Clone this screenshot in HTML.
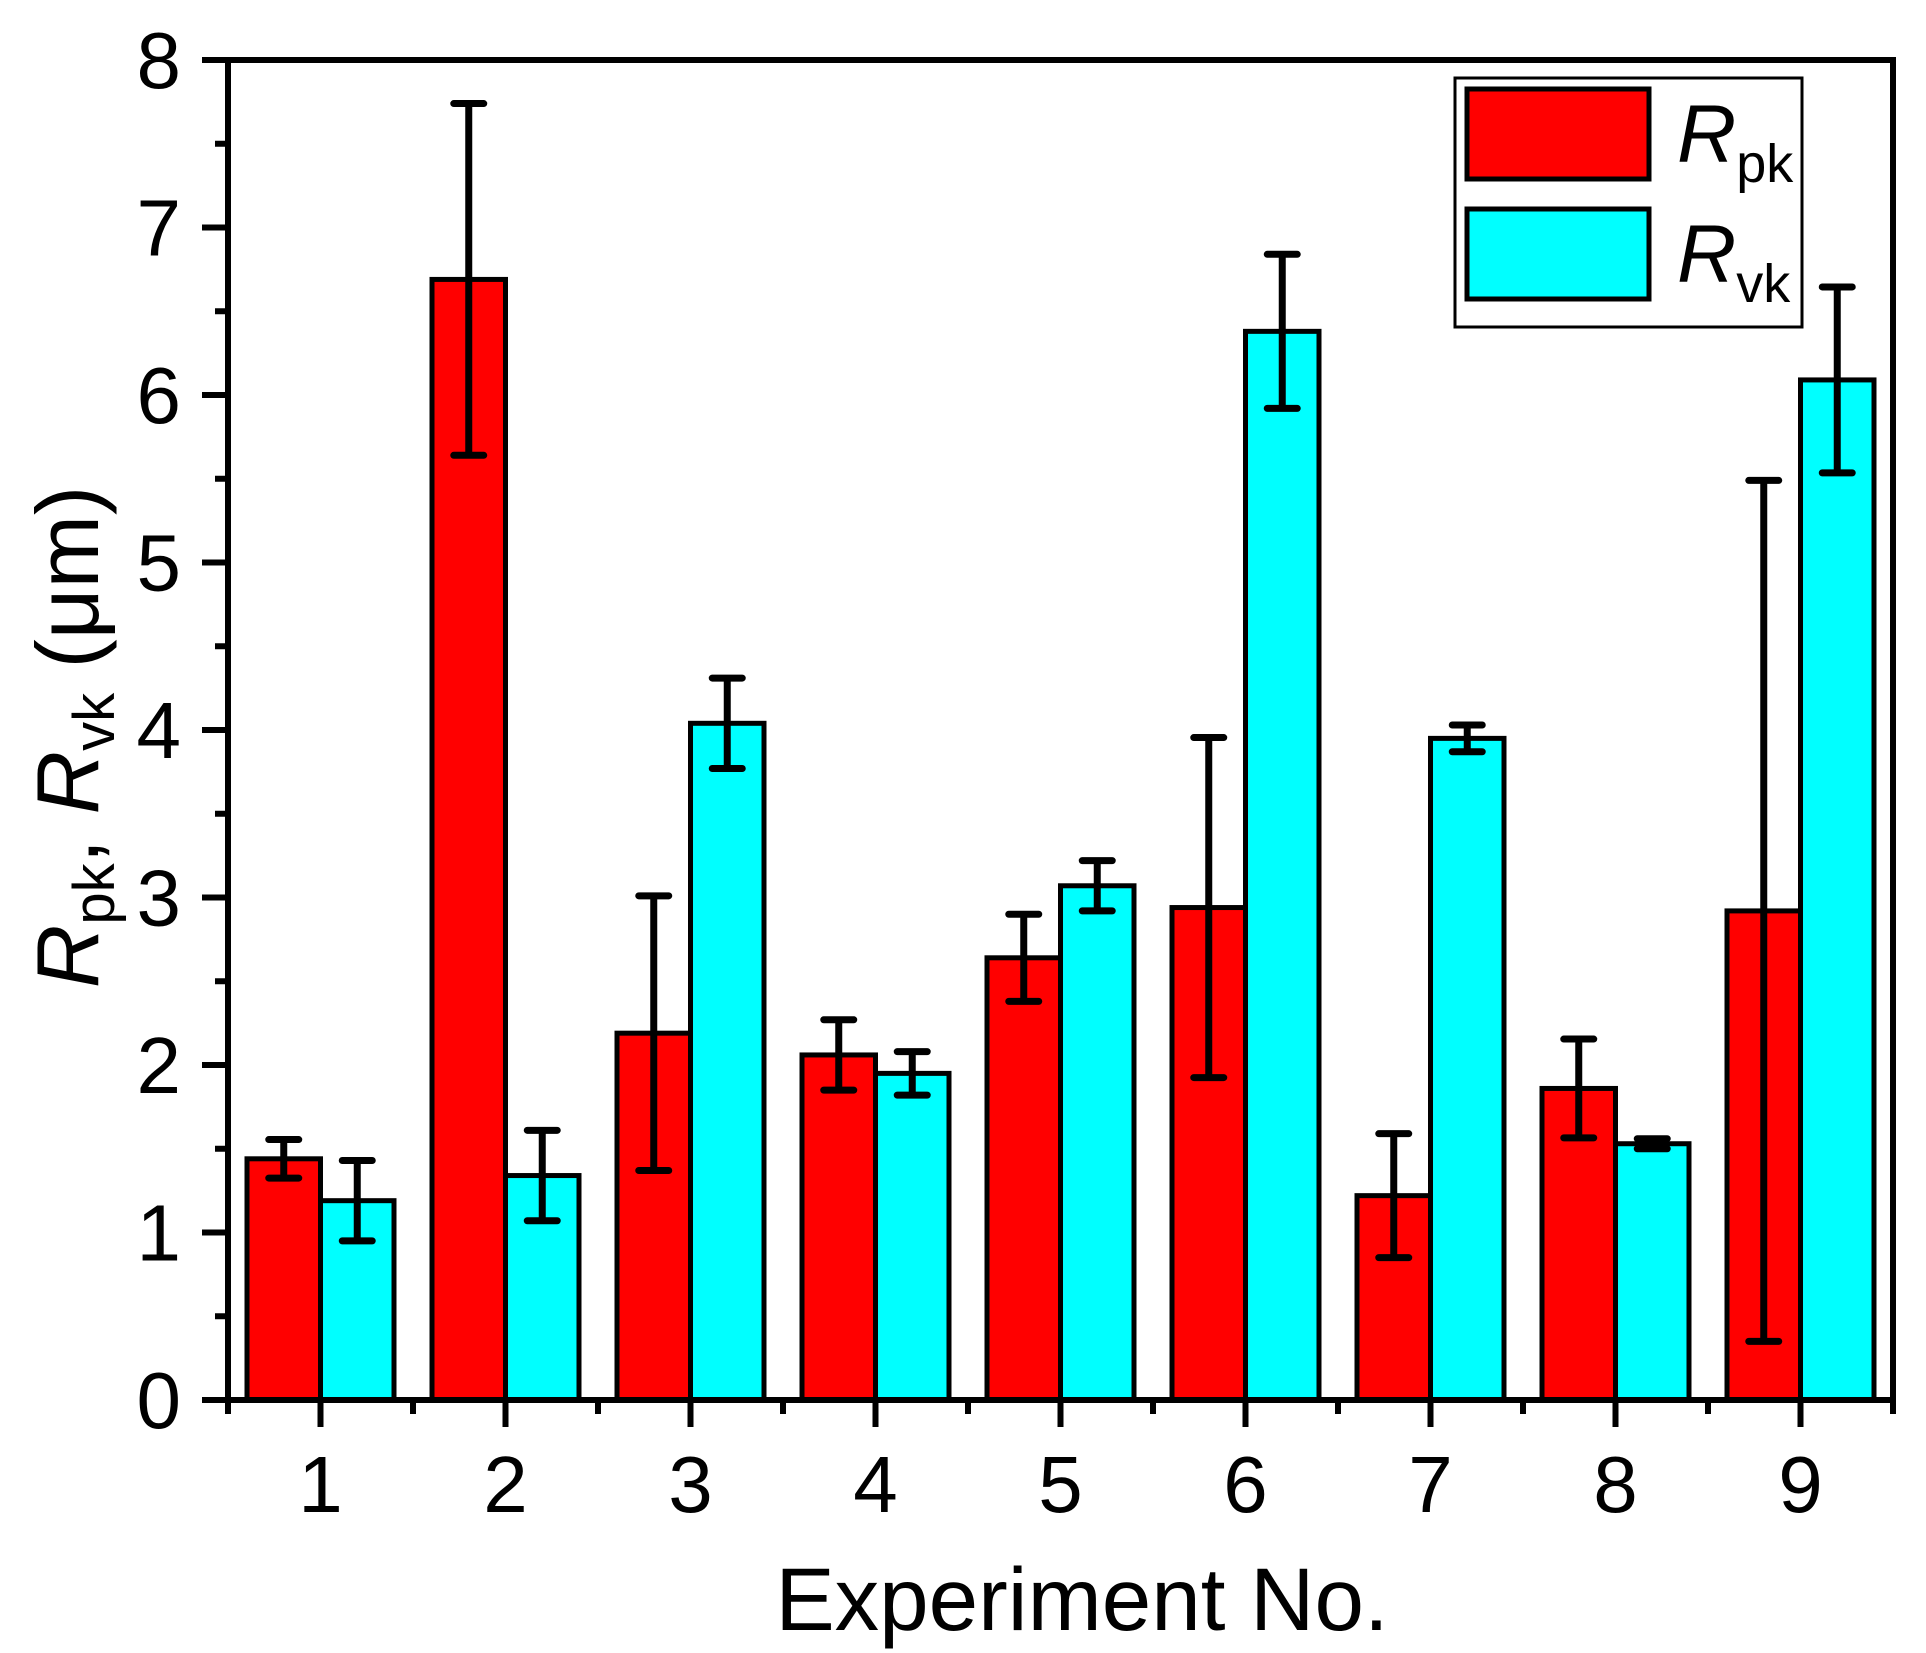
<!DOCTYPE html>
<html><head><meta charset="utf-8"><style>
html,body{margin:0;padding:0;background:#fff}
svg{display:block;font-family:"Liberation Sans",Arial,sans-serif}
</style></head><body>
<svg id="chart" width="1926" height="1653" viewBox="0 0 1926 1653" xmlns="http://www.w3.org/2000/svg">
<g id="plot"></g>
<g>
<rect x="1455" y="78" width="347" height="249" fill="#fff" stroke="#000" stroke-width="3"/>
<rect x="1467" y="89" width="182" height="90" fill="#ff0000" stroke="#000" stroke-width="5"/>
<text x="1677" y="162" font-size="82" font-style="italic">R<tspan font-size="54" font-style="normal" dy="20">pk</tspan></text>
<rect x="1467" y="209" width="182" height="90" fill="#00ffff" stroke="#000" stroke-width="5"/>
<text x="1677" y="282" font-size="82" font-style="italic">R<tspan font-size="54" font-style="normal" dy="20">vk</tspan></text>
</g>
<text x="1082" y="1630" font-size="89" text-anchor="middle">Experiment No.</text>
<text transform="translate(98,737) rotate(-90)" font-size="88" text-anchor="middle"><tspan font-style="italic">R</tspan><tspan font-size="58" dy="16">pk</tspan><tspan dy="-16">, </tspan><tspan font-style="italic">R</tspan><tspan font-size="58" dy="16">vk</tspan><tspan dy="-16"> (μm)</tspan></text>
</svg>
<script>
const categories = [1,2,3,4,5,6,7,8,9];
const rpk = [1.44,6.69,2.19,2.06,2.64,2.94,1.22,1.86,2.92];
const rpkErr = [0.115,1.05,0.82,0.21,0.26,1.015,0.37,0.295,2.57];
const rvk = [1.19,1.34,4.04,1.95,3.07,6.38,3.95,1.53,6.09];
const rvkErr = [0.24,0.27,0.27,0.13,0.15,0.46,0.08,0.03,0.555];
const yTicks = [0,1,2,3,4,5,6,7,8];

const NS="http://www.w3.org/2000/svg";
const X0=228,X1=1893,Y0=1400,Y1=60;
const xs=c=>X0+(c-0.5)*(X1-X0)/9;
const ys=v=>Y0-v*(Y0-Y1)/8;
const g=document.getElementById('plot');
function mk(t,a){const e=document.createElementNS(NS,t);for(const k in a)e.setAttribute(k,a[k]);g.appendChild(e);return e;}
const bw=73.5;
function bars(vals,off,color,nm){
  vals.forEach((v,i)=>{
    const cx=xs(categories[i])+off;
    const r=mk('rect',{x:cx-bw/2,y:ys(v),width:bw,height:Y0-ys(v),fill:color,stroke:'#000','stroke-width':5});
    
    
  });
}
function errbars(vals,errs,off,nm){
  vals.forEach((v,i)=>{
    const cx=xs(categories[i])+off;
    const lo=ys(v-errs[i]),hi=ys(v+errs[i]);
    const p=mk('path',{d:`M${cx},${lo}V${hi}M${cx-15},${hi}H${cx+15}M${cx-15},${lo}H${cx+15}`,stroke:'#000','stroke-width':7,'stroke-linecap':'round',fill:'none'});
    
    
  });
}
bars(rpk,-bw/2,'#ff0000','rpk');
bars(rvk,bw/2,'#00ffff','rvk');
errbars(rpk,rpkErr,-bw/2,'rpk');
errbars(rvk,rvkErr,bw/2,'rvk');
const fr=mk('path',{d:`M${X0},${Y1}V${Y0}H${X1}V${Y1}H${X0}`,stroke:'#000','stroke-width':6,fill:'none'});


yTicks.forEach(t=>{
  const y=ys(t);
  const l=mk('line',{x1:X0-26,x2:X0,y1:y,y2:y,stroke:'#000','stroke-width':6});
  
  
  const tx=mk('text',{x:181,y:y+28,'font-size':80,'text-anchor':'end'});
  tx.textContent=t;
  
  
  if(t<8){const m=mk('line',{x1:X0-13,x2:X0,y1:ys(t+0.5),y2:ys(t+0.5),stroke:'#000','stroke-width':6});
  
  }
});
categories.forEach(c=>{
  const x=xs(c);
  const l=mk('line',{x1:x,x2:x,y1:Y0,y2:Y0+27,stroke:'#000','stroke-width':6});
  
  
  const tx=mk('text',{x:x,y:1512,'font-size':80,'text-anchor':'middle'});
  tx.textContent=c;
  
  
});
for(let k=0;k<=9;k++){
  const x=xs(k+0.5);
  const m=mk('line',{x1:x,x2:x,y1:Y0,y2:Y0+14,stroke:'#000','stroke-width':6});
  
  
}
</script>
</body></html>
